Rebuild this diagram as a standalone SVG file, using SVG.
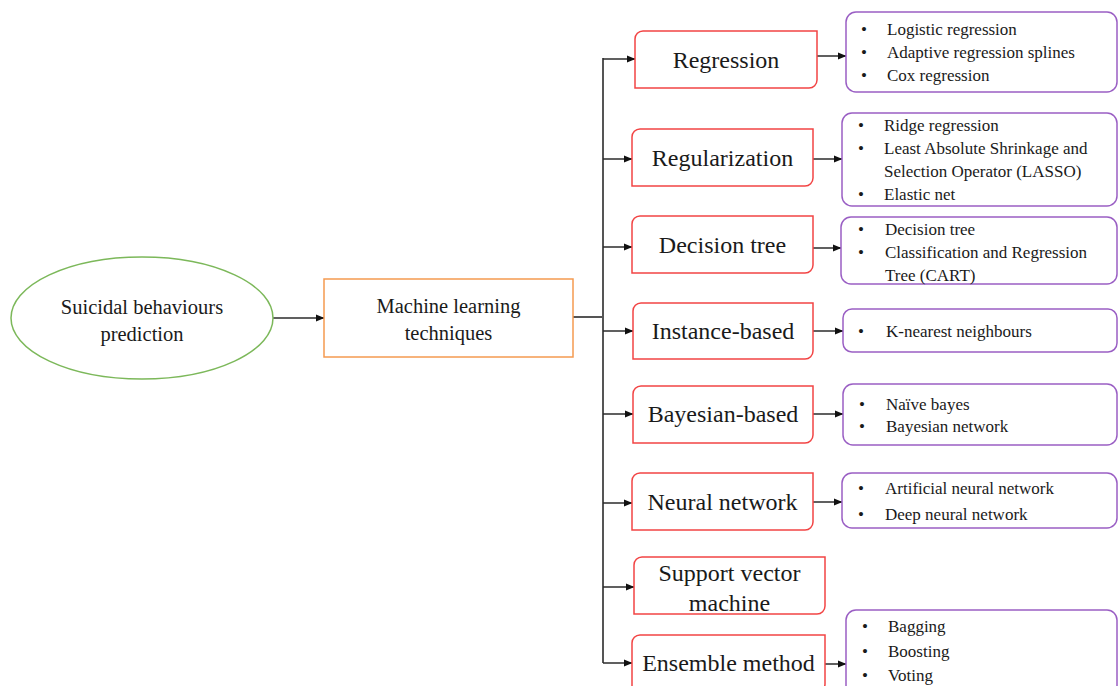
<svg xmlns="http://www.w3.org/2000/svg" width="1118" height="686" viewBox="0 0 1118 686">
<defs>
<marker id="ah" markerWidth="9" markerHeight="8" refX="8" refY="4" orient="auto" markerUnits="userSpaceOnUse">
<path d="M0,0.5 L8.5,4 L0,7.5 z" fill="#111"/>
</marker>
<style>
text{font-family:"Liberation Serif","Times New Roman",serif;fill:#1a1a1a;}
.big{font-size:24px;text-anchor:middle;}
.mid{font-size:20.5px;text-anchor:middle;}
.sm{font-size:17px;}
.red{fill:#fff;stroke:#f24444;stroke-width:1.5;}
.pur{fill:#fff;stroke:#9a5fc4;stroke-width:1.5;}
.ln{stroke:#2b2b2b;stroke-width:1.5;fill:none;}
.tr{stroke:#555;stroke-width:2;fill:none;}
</style>
</defs>
<rect width="1118" height="686" fill="#fff"/>

<g id="connectors">
<line class="ln" x1="273" y1="318" x2="324" y2="318" marker-end="url(#ah)"/>
<polyline class="tr" points="573,317 603,317"/>
<line class="tr" x1="603" y1="58" x2="603" y2="663"/>
<line class="ln" x1="603" y1="59" x2="635" y2="59" marker-end="url(#ah)"/>
<line class="ln" x1="603" y1="159" x2="632" y2="159" marker-end="url(#ah)"/>
<line class="ln" x1="603" y1="247" x2="632" y2="247" marker-end="url(#ah)"/>
<line class="ln" x1="603" y1="331" x2="633" y2="331" marker-end="url(#ah)"/>
<line class="ln" x1="603" y1="414" x2="633" y2="414" marker-end="url(#ah)"/>
<line class="ln" x1="603" y1="503" x2="632" y2="503" marker-end="url(#ah)"/>
<line class="ln" x1="603" y1="587" x2="634" y2="587" marker-end="url(#ah)"/>
<line class="ln" x1="603" y1="663" x2="632" y2="663" marker-end="url(#ah)"/>
<line class="ln" x1="817" y1="56" x2="846" y2="56" marker-end="url(#ah)"/>
<line class="ln" x1="813" y1="159" x2="842" y2="159" marker-end="url(#ah)"/>
<line class="ln" x1="813" y1="248" x2="841" y2="248" marker-end="url(#ah)"/>
<line class="ln" x1="813" y1="331" x2="843" y2="331" marker-end="url(#ah)"/>
<line class="ln" x1="813" y1="414" x2="843" y2="414" marker-end="url(#ah)"/>
<line class="ln" x1="813" y1="502" x2="842" y2="502" marker-end="url(#ah)"/>
<line class="ln" x1="825" y1="664" x2="846" y2="664" marker-end="url(#ah)"/>
</g>

<g id="root">
<ellipse cx="142" cy="318" rx="131" ry="61" fill="#fff" stroke="#7cb85a" stroke-width="1.5"/>
<text class="mid" x="142" y="307" dominant-baseline="central">Suicidal behaviours</text>
<text class="mid" x="142" y="334" dominant-baseline="central">prediction</text>
</g>

<g id="ml">
<rect x="324" y="279" width="249" height="78" fill="#fff" stroke="#f59a50" stroke-width="1.5"/>
<text class="mid" x="448.5" y="306" dominant-baseline="central">Machine learning</text>
<text class="mid" x="448.5" y="333" dominant-baseline="central">techniques</text>
</g>

<g id="regression">
<path class="red" d="M643,31 H817 V80 A8,8 0 0 1 809,88 H635 V39 A8,8 0 0 1 643,31 Z"/>
<text class="big" x="726" y="59.5" dominant-baseline="central">Regression</text>
</g>
<g id="regression-list">
<rect class="pur" x="846" y="12" width="271" height="80" rx="10"/>
<text class="sm" x="861" y="29.5" dominant-baseline="central">•</text><text class="sm" x="887" y="29.5" dominant-baseline="central">Logistic regression</text>
<text class="sm" x="861" y="52.5" dominant-baseline="central">•</text><text class="sm" x="887" y="52.5" dominant-baseline="central">Adaptive regression splines</text>
<text class="sm" x="861" y="75.5" dominant-baseline="central">•</text><text class="sm" x="887" y="75.5" dominant-baseline="central">Cox regression</text>
</g>

<g id="regularization">
<path class="red" d="M640,129 H813 V178 A8,8 0 0 1 805,186 H632 V137 A8,8 0 0 1 640,129 Z"/>
<text class="big" x="722.5" y="158" dominant-baseline="central">Regularization</text>
</g>
<g id="regularization-list">
<rect class="pur" x="842" y="113" width="275" height="93" rx="10"/>
<text class="sm" x="858" y="125" dominant-baseline="central">•</text><text class="sm" x="884" y="125" dominant-baseline="central">Ridge regression</text>
<text class="sm" x="858" y="148" dominant-baseline="central">•</text><text class="sm" x="884" y="148" dominant-baseline="central">Least Absolute Shrinkage and</text>
<text class="sm" x="884" y="171" dominant-baseline="central">Selection Operator (LASSO)</text>
<text class="sm" x="858" y="194" dominant-baseline="central">•</text><text class="sm" x="884" y="194" dominant-baseline="central">Elastic net</text>
</g>

<g id="decision-tree">
<path class="red" d="M640,216 H813 V265 A8,8 0 0 1 805,273 H632 V224 A8,8 0 0 1 640,216 Z"/>
<text class="big" x="722.5" y="245" dominant-baseline="central">Decision tree</text>
</g>
<g id="decision-tree-list">
<rect class="pur" x="841" y="217" width="276" height="67" rx="10"/>
<text class="sm" x="858" y="229.5" dominant-baseline="central">•</text><text class="sm" x="885" y="229.5" dominant-baseline="central">Decision tree</text>
<text class="sm" x="858" y="252.5" dominant-baseline="central">•</text><text class="sm" x="885" y="252.5" dominant-baseline="central">Classification and Regression</text>
<text class="sm" x="885" y="275.5" dominant-baseline="central">Tree (CART)</text>
</g>

<g id="instance-based">
<path class="red" d="M641,303 H813 V351 A8,8 0 0 1 805,359 H633 V311 A8,8 0 0 1 641,303 Z"/>
<text class="big" x="723" y="331" dominant-baseline="central">Instance-based</text>
</g>
<g id="instance-based-list">
<rect class="pur" x="843" y="309" width="274" height="43" rx="9"/>
<text class="sm" x="858" y="331.5" dominant-baseline="central">•</text><text class="sm" x="886" y="331.5" dominant-baseline="central">K-nearest neighbours</text>
</g>

<g id="bayesian-based">
<path class="red" d="M641,386 H813 V435 A8,8 0 0 1 805,443 H633 V394 A8,8 0 0 1 641,386 Z"/>
<text class="big" x="723" y="414" dominant-baseline="central">Bayesian-based</text>
</g>
<g id="bayesian-based-list">
<rect class="pur" x="843" y="384" width="274" height="61" rx="10"/>
<text class="sm" x="859" y="404" dominant-baseline="central">•</text><text class="sm" x="886" y="404" dominant-baseline="central">Naïve bayes</text>
<text class="sm" x="859" y="426.5" dominant-baseline="central">•</text><text class="sm" x="886" y="426.5" dominant-baseline="central">Bayesian network</text>
</g>

<g id="neural-network">
<path class="red" d="M640,473 H813 V522 A8,8 0 0 1 805,530 H632 V481 A8,8 0 0 1 640,473 Z"/>
<text class="big" x="722.5" y="502" dominant-baseline="central">Neural network</text>
</g>
<g id="neural-network-list">
<rect class="pur" x="842" y="473" width="275" height="55" rx="10"/>
<text class="sm" x="858" y="488" dominant-baseline="central">•</text><text class="sm" x="885" y="488" dominant-baseline="central">Artificial neural network</text>
<text class="sm" x="858" y="514" dominant-baseline="central">•</text><text class="sm" x="885" y="514" dominant-baseline="central">Deep neural network</text>
</g>

<g id="svm">
<path class="red" d="M642,557 H825 V606 A8,8 0 0 1 817,614 H634 V565 A8,8 0 0 1 642,557 Z"/>
<text class="big" x="729.5" y="573" dominant-baseline="central">Support vector</text>
<text class="big" x="729.5" y="603" dominant-baseline="central">machine</text>
</g>

<g id="ensemble">
<path class="red" d="M640,635 H825 V684 A8,8 0 0 1 817,692 H632 V643 A8,8 0 0 1 640,635 Z"/>
<text class="big" x="728.5" y="663" dominant-baseline="central">Ensemble method</text>
</g>
<g id="ensemble-list">
<rect class="pur" x="846" y="610" width="271" height="86" rx="10"/>
<text class="sm" x="862" y="626" dominant-baseline="central">•</text><text class="sm" x="888" y="626" dominant-baseline="central">Bagging</text>
<text class="sm" x="862" y="651" dominant-baseline="central">•</text><text class="sm" x="888" y="651" dominant-baseline="central">Boosting</text>
<text class="sm" x="862" y="675" dominant-baseline="central">•</text><text class="sm" x="888" y="675" dominant-baseline="central">Voting</text>
</g>
</svg>
